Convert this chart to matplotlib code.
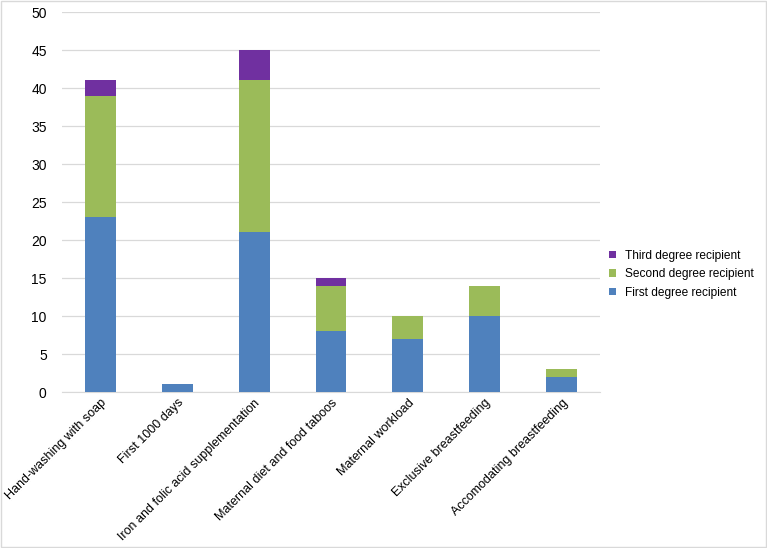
import matplotlib
matplotlib.use("Agg")
import matplotlib.pyplot as plt
import numpy as np

plt.rcParams.update({"font.family": ["Liberation Sans", "DejaVu Sans"], "font.size": 9})

categories = [
    "Hand-washing with soap",
    "First 1000 days",
    "Iron and folic acid supplementation",
    "Maternal diet and food taboos",
    "Maternal workload",
    "Exclusive breastfeeding",
    "Accomodating breastfeeding",
]
first_degree = [23, 1, 21, 8, 7, 10, 2]
second_degree = [16, 0, 20, 6, 3, 4, 1]
third_degree = [2, 0, 4, 1, 0, 0, 0]

fig = plt.figure(figsize=(7.67, 5.48), dpi=100)
ax = fig.add_axes([62 / 767, 1 - 392 / 548, (600 - 62) / 767, (392 - 12) / 548])

x = np.arange(len(categories))
w = 0.4
first = np.array(first_degree)
second = np.array(second_degree)
third = np.array(third_degree)
b1 = ax.bar(x, first, width=w, color="#4F81BD", label="First degree recipient", zorder=3)
b2 = ax.bar(x, second, width=w, bottom=first, color="#9BBB59", label="Second degree recipient", zorder=3)
b3 = ax.bar(x, third, width=w, bottom=first + second, color="#7030A0", label="Third degree recipient", zorder=3)

ax.set_ylim(0, 50)
ax.set_xlim(-0.5, len(categories) - 0.5)
ax.set_yticks(range(0, 51, 5))
ax.yaxis.grid(True, color="#D9D9D9", linewidth=0.9, zorder=0)
for s in ["top", "right", "left"]:
    ax.spines[s].set_visible(False)
ax.spines["bottom"].set_color("#D9D9D9")
ax.tick_params(axis="both", length=0, colors="black")
ax.tick_params(axis="y", pad=11, labelsize=10)
ax.set_xticks(x)
ax.set_xticklabels(categories, rotation=45, ha="right", rotation_mode="anchor", fontsize=9)

ax.legend(handles=[b3, b2, b1], loc="center left", bbox_to_anchor=(0.997, 0.31),
          frameon=False, handlelength=0.6, handleheight=0.6, handletextpad=0.7,
          labelspacing=0.55, fontsize=8.6)

fig.patches.append(plt.Rectangle((0.001, 0.001), 0.998, 0.998, transform=fig.transFigure,
                                 fill=False, edgecolor="#D9D9D9", linewidth=1))

fig.savefig("out.png", dpi=100)
